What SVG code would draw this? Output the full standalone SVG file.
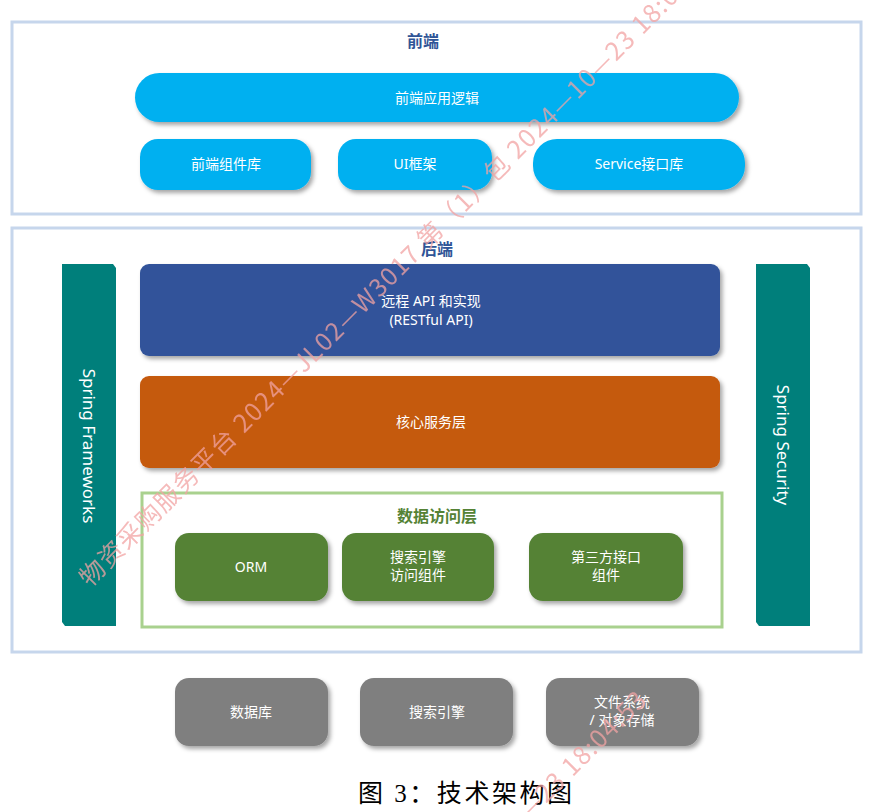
<svg xmlns="http://www.w3.org/2000/svg" width="885" height="812" viewBox="0 0 885 812">
<defs>
<filter id="sh" x="-10%" y="-10%" width="125%" height="130%">
<feDropShadow dx="2.5" dy="3" stdDeviation="2" flood-color="#000" flood-opacity="0.35"/>
</filter>
<style>
.panel{fill:#fff;stroke:#c6d6ec;stroke-width:3}
.title{font-family:"Noto Sans CJK SC",sans-serif;font-weight:700;font-size:16px;fill:#2f5597;text-anchor:middle}
.lbl{font-family:"Noto Sans","Noto Sans CJK SC",sans-serif;font-size:14px;fill:#fff;text-anchor:middle}
.sky{fill:#00b0f0;filter:url(#sh)}
.teal{fill:#007f7b}
.green{fill:#548235;filter:url(#sh)}
.gray{fill:#7f7f7f;filter:url(#sh)}
.wm{font-family:"Noto Sans CJK SC",sans-serif;font-size:25px;fill:#f2a3a3;opacity:0.75}
</style>
</defs>

<rect width="885" height="812" fill="#fff"/>

<g id="frontend">
<rect class="panel" x="12" y="22" width="849" height="192"/>
<text class="title" x="423" y="47">前端</text>
</g>
<g id="fe-app">
<rect class="sky" x="135" y="73" width="604" height="49" rx="24.5"/>
<text class="lbl" x="437" y="103">前端应用逻辑</text>
</g>
<g id="fe-comp">
<rect class="sky" x="140" y="139" width="171" height="51" rx="18"/>
<text class="lbl" x="226" y="169">前端组件库</text>
</g>
<g id="fe-ui">
<rect class="sky" x="338" y="139" width="154" height="51" rx="18"/>
<text class="lbl" x="415" y="169">UI框架</text>
</g>
<g id="fe-service">
<rect class="sky" x="533" y="139" width="212" height="51" rx="24"/>
<text class="lbl" x="639" y="169">Service接口库</text>
</g>

<g id="backend">
<rect class="panel" x="12" y="228" width="849" height="424"/>
<text class="title" x="437" y="255">后端</text>
</g>
<g id="spring-fw">
<path class="teal" d="M62,264 H113 L116,268 V626 H65 L62,622 Z"/>
<text class="lbl" style="font-size:17px" transform="translate(83,446) rotate(90)">Spring Frameworks</text>
</g>
<g id="spring-sec">
<path class="teal" d="M756,264 H807 L810,268 V626 H759 L756,622 Z"/>
<text class="lbl" style="font-size:17px" transform="translate(777,445) rotate(90)">Spring Security</text>
</g>
<g id="api">
<rect x="140" y="264" width="580" height="92" rx="9" fill="#31539a" filter="url(#sh)"/>
<text class="lbl" x="431" y="306">远程 API 和实现</text>
<text class="lbl" x="431" y="325">(RESTful API)</text>
</g>
<g id="core">
<rect x="140" y="376" width="580" height="92" rx="9" fill="#c55a11" filter="url(#sh)"/>
<text class="lbl" x="431" y="427">核心服务层</text>
</g>
<g id="dal">
<rect x="142" y="493" width="580" height="134" fill="#fff" stroke="#a9d18e" stroke-width="3"/>
<text class="title" style="fill:#548235" x="437" y="522">数据访问层</text>
</g>
<g id="orm">
<rect class="green" x="175" y="533" width="153" height="68" rx="14"/>
<text class="lbl" x="251" y="572">ORM</text>
</g>
<g id="search-access">
<rect class="green" x="342" y="533" width="152" height="68" rx="14"/>
<text class="lbl" x="418" y="562">搜索引擎</text>
<text class="lbl" x="418" y="580">访问组件</text>
</g>
<g id="third-party">
<rect class="green" x="529" y="533" width="154" height="68" rx="14"/>
<text class="lbl" x="606" y="562">第三方接口</text>
<text class="lbl" x="606" y="580">组件</text>
</g>

<g id="db">
<rect class="gray" x="175" y="678" width="153" height="68" rx="14"/>
<text class="lbl" x="251" y="717">数据库</text>
</g>
<g id="search">
<rect class="gray" x="360" y="678" width="153" height="68" rx="14"/>
<text class="lbl" x="437" y="717">搜索引擎</text>
</g>
<g id="fs">
<rect class="gray" x="546" y="678" width="153" height="68" rx="14"/>
<text class="lbl" x="622" y="707">文件系统</text>
<text class="lbl" x="622" y="725">/ 对象存储</text>
</g>

<g id="connectors"></g>

<text x="358" y="802" font-family="'Liberation Serif','Noto Sans CJK SC',serif" font-size="25" fill="#000" textLength="214" lengthAdjust="spacing">图 3：技术架构图</text>

<g id="watermark">
<text class="wm" transform="translate(90,588) rotate(-45)" textLength="888" lengthAdjust="spacing">物资采购服务平台 2024—JL02—W3017 第（1）包 2024—10—23 18:04:53</text>
<text class="wm" transform="translate(20,1330) rotate(-45)" textLength="888" lengthAdjust="spacing">物资采购服务平台 2024—JL02—W3017 第（1）包 2024—10—23 18:04:53</text>
</g>
</svg>
